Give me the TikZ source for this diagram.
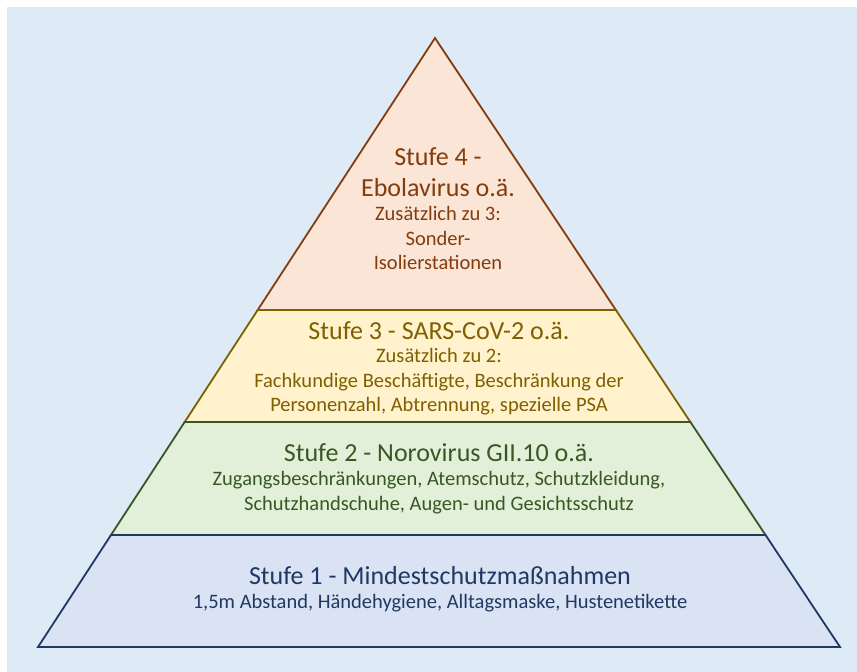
\documentclass[tikz,border=0pt]{standalone}
\usepackage{fontspec}
\setmainfont{Carlito}
\usepackage{tikz}
\usetikzlibrary{calc}
\definecolor{panelblue}{HTML}{DEEBF7}
\definecolor{redfill}{HTML}{FBE5D6}
\definecolor{redline}{HTML}{843C0C}
\definecolor{yellowfill}{HTML}{FFF2CC}
\definecolor{yellowline}{HTML}{7F6000}
\definecolor{greenfill}{HTML}{E2F0D9}
\definecolor{greenline}{HTML}{385723}
\definecolor{bluefill}{HTML}{DAE3F3}
\definecolor{blueline}{HTML}{203864}
\tikzset{
    layer/.style={line width=1.8pt, line join=miter},
    heading/.style={font=\fontsize{26}{31}\selectfont, align=center, inner sep=0pt},
    details/.style={font=\fontsize{20.5}{24.5}\selectfont, align=center, inner sep=0pt}
}

\begin{document}
\begin{tikzpicture}[x=1pt, y=-1pt]
    \useasboundingbox (0,0) rectangle (857,672);
    \fill[white] (0,0) rectangle (857,672);
    \fill[panelblue] (7,7) rectangle (857,672);

    % corners of the pyramid
    \coordinate (apex) at (435,38);
    \coordinate (bl) at (38,647);
    \coordinate (br) at (840,647);
    \coordinate (l3) at ($(apex)!0.4466!(bl)$);
    \coordinate (r3) at ($(apex)!0.4466!(br)$);
    \coordinate (l2) at ($(apex)!0.6305!(bl)$);
    \coordinate (r2) at ($(apex)!0.6305!(br)$);
    \coordinate (l1) at ($(apex)!0.8161!(bl)$);
    \coordinate (r1) at ($(apex)!0.8161!(br)$);

    % layers
    \filldraw[layer, fill=redfill, draw=redline] (apex) -- (r3) -- (l3) -- cycle;
    \filldraw[layer, fill=yellowfill, draw=yellowline] (l3) -- (r3) -- (r2) -- (l2) -- cycle;
    \filldraw[layer, fill=greenfill, draw=greenline] (l2) -- (r2) -- (r1) -- (l1) -- cycle;
    \filldraw[layer, fill=bluefill, draw=blueline] (l1) -- (r1) -- (br) -- (bl) -- cycle;

    % texts
    \node[heading, text=redline] (s4head) at (438,172) {Stufe 4 -\\Ebolavirus o.ä.};
    \node[details, text=redline] (s4text) at (438,238) {Zusätzlich zu 3:\\Sonder-\\Isolierstationen};

    \node[heading, text=yellowline] (s3head) at (439,331) {Stufe 3 - SARS-CoV-2 o.ä.};
    \node[details, text=yellowline] (s3text) at (439,382) {Zusätzlich zu 2:\\Fachkundige Beschäftigte, Beschränkung der\\Personenzahl, Abtrennung, spezielle PSA};

    \node[heading, text=greenline] (s2head) at (439,453) {Stufe 2 - Norovirus GII.10 o.ä.};
    \node[details, text=greenline] (s2text) at (439,492.5) {Zugangsbeschränkungen, Atemschutz, Schutzkleidung,\\Schutzhandschuhe, Augen- und Gesichtsschutz};

    \node[heading, text=blueline] (s1head) at (440,576) {Stufe 1 - Mindestschutzmaßnahmen};
    \node[details, text=blueline] (s1text) at (440,603) {1,5m Abstand, Händehygiene, Alltagsmaske, Hustenetikette};
\end{tikzpicture}
\end{document}
